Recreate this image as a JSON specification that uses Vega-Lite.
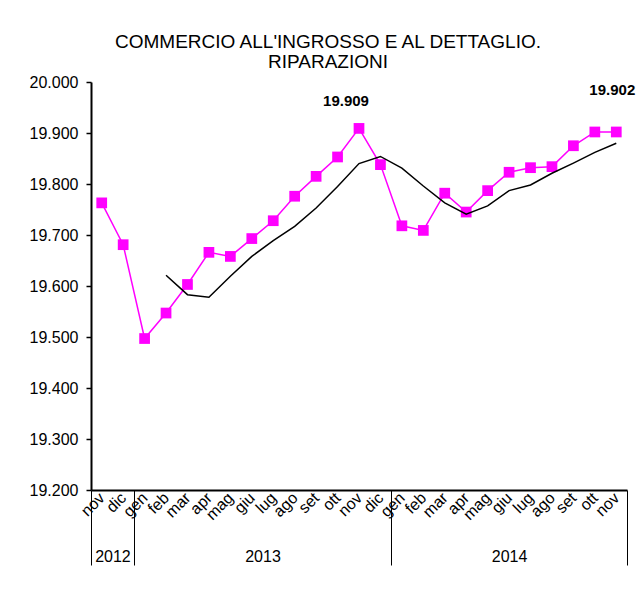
{
  "$schema": "https://vega.github.io/schema/vega-lite/v6.json",
  "width": 536,
  "height": 408,
  "autosize": "none",
  "padding": {"left": 91, "top": 82, "right": 9, "bottom": 105},
  "background": "white",
  "config": {
    "view": {"stroke": null},
    "font": "Liberation Sans",
    "locale": {"number": {"decimal": ",", "thousands": ".", "grouping": [3], "currency": ["", " €"]}}
  },
  "title": {
    "text": ["COMMERCIO ALL'INGROSSO E AL DETTAGLIO.", "RIPARAZIONI"],
    "font": "Liberation Sans",
    "fontSize": 19,
    "fontWeight": "normal",
    "color": "black",
    "anchor": "middle",
    "frame": "group",
    "dx": -31,
    "offset": 2,
    "lineHeight": 20
  },
  "data": {
    "values": [
      {"i": 0, "mese": "nov", "anno": "2012", "valore": 19763, "trend": null},
      {"i": 1, "mese": "dic", "anno": "2012", "valore": 19681, "trend": null},
      {"i": 2, "mese": "gen", "anno": "2013", "valore": 19497, "trend": null},
      {"i": 3, "mese": "feb", "anno": "2013", "valore": 19547, "trend": 19621},
      {"i": 4, "mese": "mar", "anno": "2013", "valore": 19603, "trend": 19583},
      {"i": 5, "mese": "apr", "anno": "2013", "valore": 19666, "trend": 19578},
      {"i": 6, "mese": "mag", "anno": "2013", "valore": 19658, "trend": 19619},
      {"i": 7, "mese": "giu", "anno": "2013", "valore": 19693, "trend": 19658},
      {"i": 8, "mese": "lug", "anno": "2013", "valore": 19728, "trend": 19689},
      {"i": 9, "mese": "ago", "anno": "2013", "valore": 19776, "trend": 19717},
      {"i": 10, "mese": "set", "anno": "2013", "valore": 19815, "trend": 19753},
      {"i": 11, "mese": "ott", "anno": "2013", "valore": 19853, "trend": 19795},
      {"i": 12, "mese": "nov", "anno": "2013", "valore": 19909, "trend": 19840},
      {"i": 13, "mese": "dic", "anno": "2013", "valore": 19838, "trend": 19854},
      {"i": 14, "mese": "gen", "anno": "2014", "valore": 19718, "trend": 19831},
      {"i": 15, "mese": "feb", "anno": "2014", "valore": 19709, "trend": 19796},
      {"i": 16, "mese": "mar", "anno": "2014", "valore": 19782, "trend": 19763},
      {"i": 17, "mese": "apr", "anno": "2014", "valore": 19745, "trend": 19741},
      {"i": 18, "mese": "mag", "anno": "2014", "valore": 19787, "trend": 19757},
      {"i": 19, "mese": "giu", "anno": "2014", "valore": 19823, "trend": 19787},
      {"i": 20, "mese": "lug", "anno": "2014", "valore": 19832, "trend": 19798},
      {"i": 21, "mese": "ago", "anno": "2014", "valore": 19834, "trend": 19821},
      {"i": 22, "mese": "set", "anno": "2014", "valore": 19875, "trend": 19841},
      {"i": 23, "mese": "ott", "anno": "2014", "valore": 19902, "trend": 19862},
      {"i": 24, "mese": "nov", "anno": "2014", "valore": 19902, "trend": 19880}
    ]
  },
  "layer": [
    {
      "mark": {"type": "line", "color": "#FF00FF", "strokeWidth": 1.5},
      "encoding": {
        "x": {
          "field": "i", "type": "quantitative",
          "scale": {"domain": [-0.5, 24.5], "nice": false, "zero": false},
          "axis": {
            "orient": "bottom",
            "title": null,
            "values": [0,1,2,3,4,5,6,7,8,9,10,11,12,13,14,15,16,17,18,19,20,21,22,23,24],
            "labelExpr": "['nov','dic','gen','feb','mar','apr','mag','giu','lug','ago','set','ott'][datum.value % 12]",
            "labelAngle": -45,
            "labelAlign": "right",
            "labelBaseline": "middle",
            "labelPadding": 5,
            "labelFontSize": 16,
            "labelColor": "black",
            "labelFont": "Liberation Sans",
            "labelOverlap": false,
            "labelFlush": false,
            "ticks": false,
            "grid": false,
            "domainColor": "black",
            "domainWidth": 2
          }
        },
        "y": {
          "field": "valore", "type": "quantitative",
          "scale": {"domain": [19200, 20000], "nice": false, "zero": false},
          "axis": {
            "title": null,
            "values": [19200, 19300, 19400, 19500, 19600, 19700, 19800, 19900, 20000],
            "format": ",d",
            "grid": false,
            "labelFontSize": 16,
            "labelColor": "black",
            "labelFont": "Liberation Sans",
            "labelPadding": 8,
            "tickSize": 5,
            "tickWidth": 1.5,
            "tickColor": "black",
            "domainColor": "black",
            "domainWidth": 2
          }
        }
      }
    },
    {
      "mark": {"type": "point", "shape": "square", "size": 115, "filled": true, "color": "#FF00FF", "opacity": 1},
      "encoding": {
        "x": {"field": "i", "type": "quantitative", "scale": {"domain": [-0.5, 24.5], "nice": false, "zero": false}, "axis": null},
        "y": {"field": "valore", "type": "quantitative"}
      }
    },
    {
      "mark": {"type": "line", "color": "black", "strokeWidth": 1.5},
      "encoding": {
        "x": {
          "field": "i", "type": "quantitative",
          "scale": {"domain": [-0.5, 24.5], "nice": false, "zero": false},
          "axis": {
            "orient": "bottom",
            "title": null,
            "values": [-0.5, 0.5, 1.5, 7.5, 13.5, 19, 24.5],
            "labelExpr": "datum.value == 0.5 ? '2012' : datum.value == 7.5 ? '2013' : datum.value == 19 ? '2014' : ''",
            "labelAngle": 0,
            "labelAlign": "center",
            "labelBaseline": "top",
            "labelFontSize": 16,
            "labelColor": "black",
            "labelFont": "Liberation Sans",
            "labelOverlap": false,
            "labelFlush": false,
            "labelPadding": -17,
            "tickSize": 75,
            "tickWidth": 1,
            "tickColor": "black",
            "tickOpacity": {"condition": {"test": "datum.value == -0.5 || datum.value == 1.5 || datum.value == 13.5 || datum.value == 24.5", "value": 1}, "value": 0},
            "domain": false,
            "grid": false
          }
        },
        "y": {"field": "trend", "type": "quantitative"}
      }
    },
    {
      "transform": [{"filter": "datum.i == 12"}],
      "mark": {"type": "text", "fontWeight": "bold", "fontSize": 15, "font": "Liberation Sans", "color": "black", "align": "center", "baseline": "alphabetic", "dx": -13, "dy": -22},
      "encoding": {
        "x": {"field": "i", "type": "quantitative", "scale": {"domain": [-0.5, 24.5], "nice": false, "zero": false}, "axis": null},
        "y": {"field": "valore", "type": "quantitative"},
        "text": {"field": "valore", "type": "quantitative", "format": ",d"}
      }
    },
    {
      "transform": [{"filter": "datum.i == 24"}],
      "mark": {"type": "text", "fontWeight": "bold", "fontSize": 15, "font": "Liberation Sans", "color": "black", "align": "center", "baseline": "alphabetic", "dx": -4, "dy": -37},
      "encoding": {
        "x": {"field": "i", "type": "quantitative", "scale": {"domain": [-0.5, 24.5], "nice": false, "zero": false}, "axis": null},
        "y": {"field": "valore", "type": "quantitative"},
        "text": {"field": "valore", "type": "quantitative", "format": ",d"}
      }
    }
  ],
  "resolve": {"scale": {"x": "independent"}, "axis": {"x": "independent"}}
}
